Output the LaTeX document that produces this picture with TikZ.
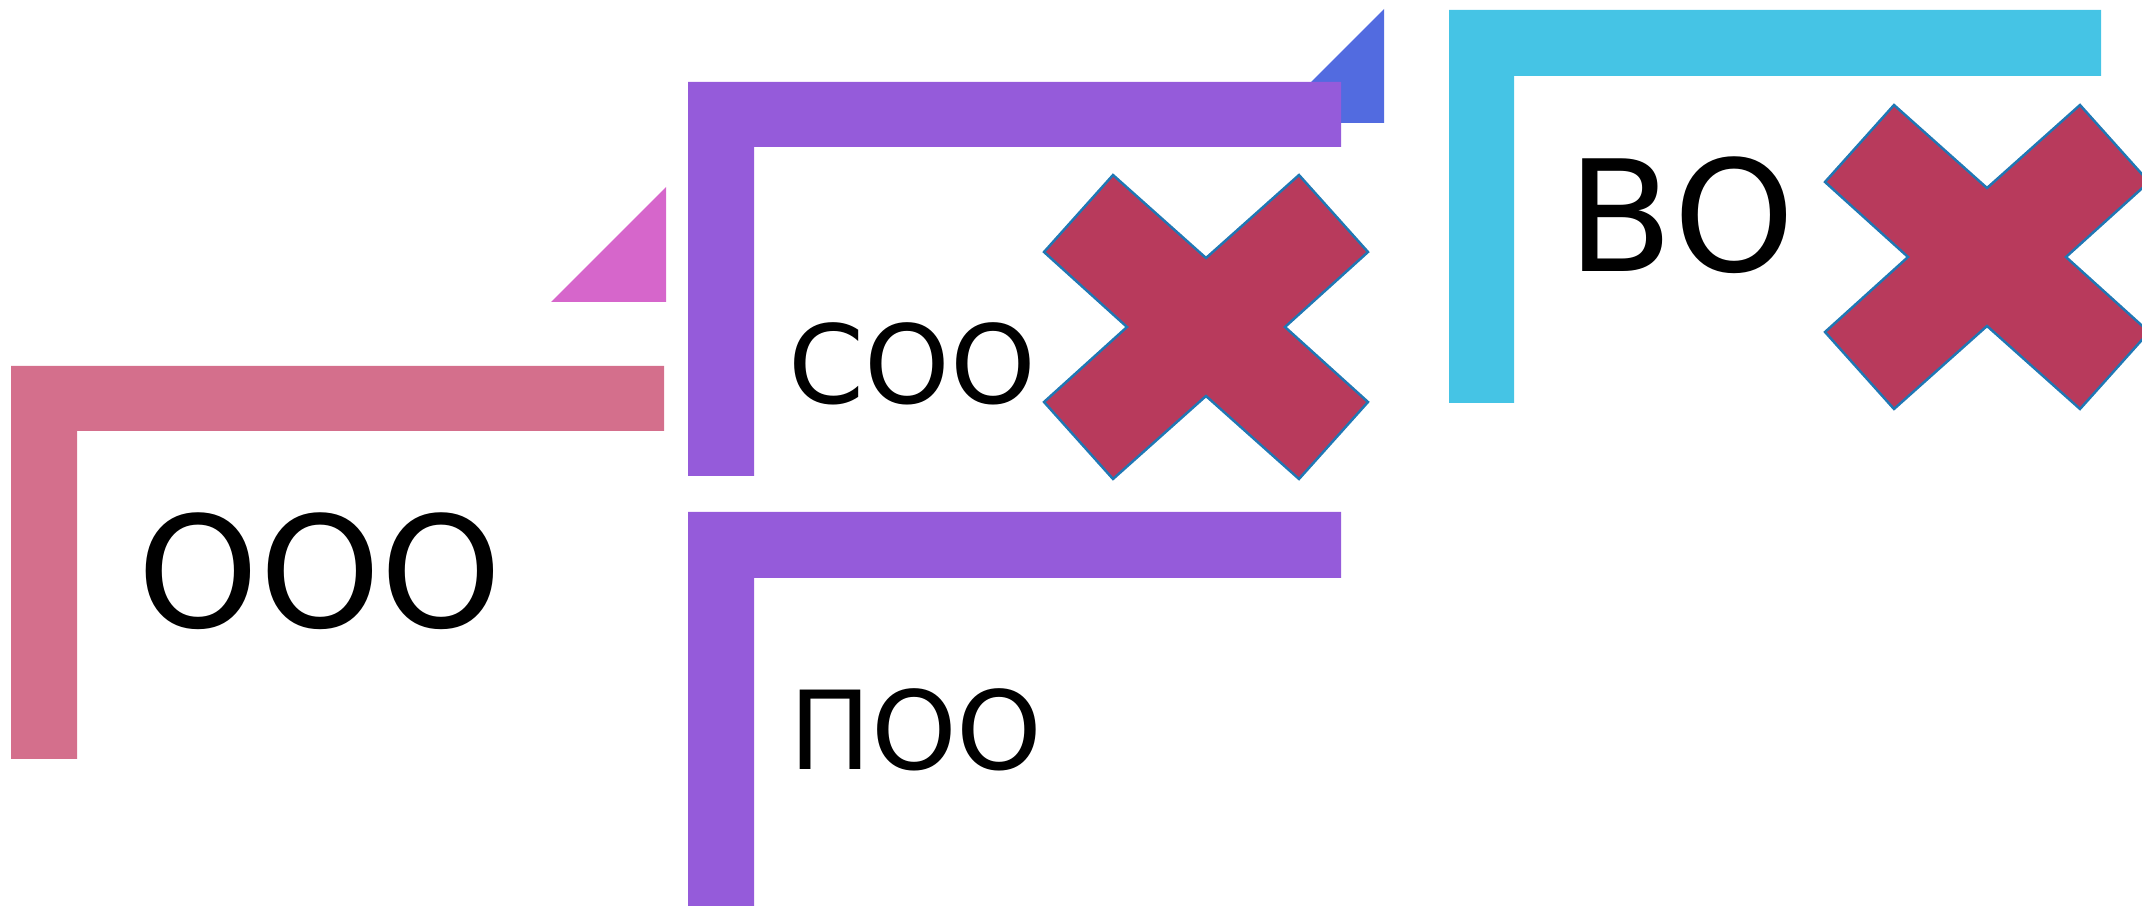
\documentclass[tikz,border=0pt]{standalone}
\usepackage{fontspec}
\setmainfont{DejaVu Sans}
\usepackage{xcolor}
\usepackage{tikz}
\definecolor{lpink}{HTML}{D46F8C}
\definecolor{lpurple}{HTML}{955BDA}
\definecolor{lcyan}{HTML}{45C4E5}
\definecolor{tmagenta}{HTML}{D666CB}
\definecolor{tblue}{HTML}{526BE0}
\definecolor{xred}{HTML}{B83A5C}
\definecolor{xedge}{HTML}{1F77B4}
\tikzstyle{ell} = [draw=none]
\tikzstyle{corner} = [draw=none]
\tikzstyle{cross} = [fill=xred, draw=xedge, line width=0.7pt, line join=miter]
\tikzstyle{bigtext} = [inner sep=0pt, text=black, font=\fontsize{44}{48}\selectfont]
\tikzstyle{smalltext} = [inner sep=0pt, text=black, font=\fontsize{31}{34}\selectfont]

\begin{document}
\begin{tikzpicture}[x=0.1mm, y=-0.1mm]
	\useasboundingbox (0,0) rectangle (2142,906);
	\clip (0,0) rectangle (2142,906);

	% corner triangles
	\fill [corner, tmagenta] (551,302) -- (666,302) -- (666,187) -- cycle;
	\fill [corner, tblue] (1270,123) -- (1384,123) -- (1384,9) -- cycle;

	% L frames
	\fill [ell, lpink] (11,366) -- ++(653,0) -- ++(0,65) -- ++(-587,0) -- ++(0,328) -- ++(-66,0) -- cycle;
	\fill [ell, lpurple] (688,82) -- ++(653,0) -- ++(0,65) -- ++(-587,0) -- ++(0,329) -- ++(-66,0) -- cycle;
	\fill [ell, lpurple] (688,512) -- ++(653,0) -- ++(0,66) -- ++(-587,0) -- ++(0,330) -- ++(-66,0) -- cycle;
	\fill [ell, lcyan] (1449,10) -- ++(652,0) -- ++(0,66) -- ++(-587,0) -- ++(0,327) -- ++(-65,0) -- cycle;

	% crosses
	\foreach \cx/\cy in {1206/327, 1987/257}
		\draw [cross, shift={(\cx,\cy)}] (-93,-152) -- (0,-69) -- (93,-152) -- (162,-75) -- (79,0) -- (162,75)
			-- (93,152) -- (0,69) -- (-93,152) -- (-162,75) -- (-79,0) -- (-162,-75) -- cycle;

	% labels
	\node (ooo) [bigtext] at (320,571) {ООО};
	\node (soo) [smalltext] at (912,364) {СОО};
	\node (poo) [smalltext] at (916,730) {ПОО};
	\node (vo) [bigtext] at (1681,215) {ВО};
\end{tikzpicture}
\end{document}
